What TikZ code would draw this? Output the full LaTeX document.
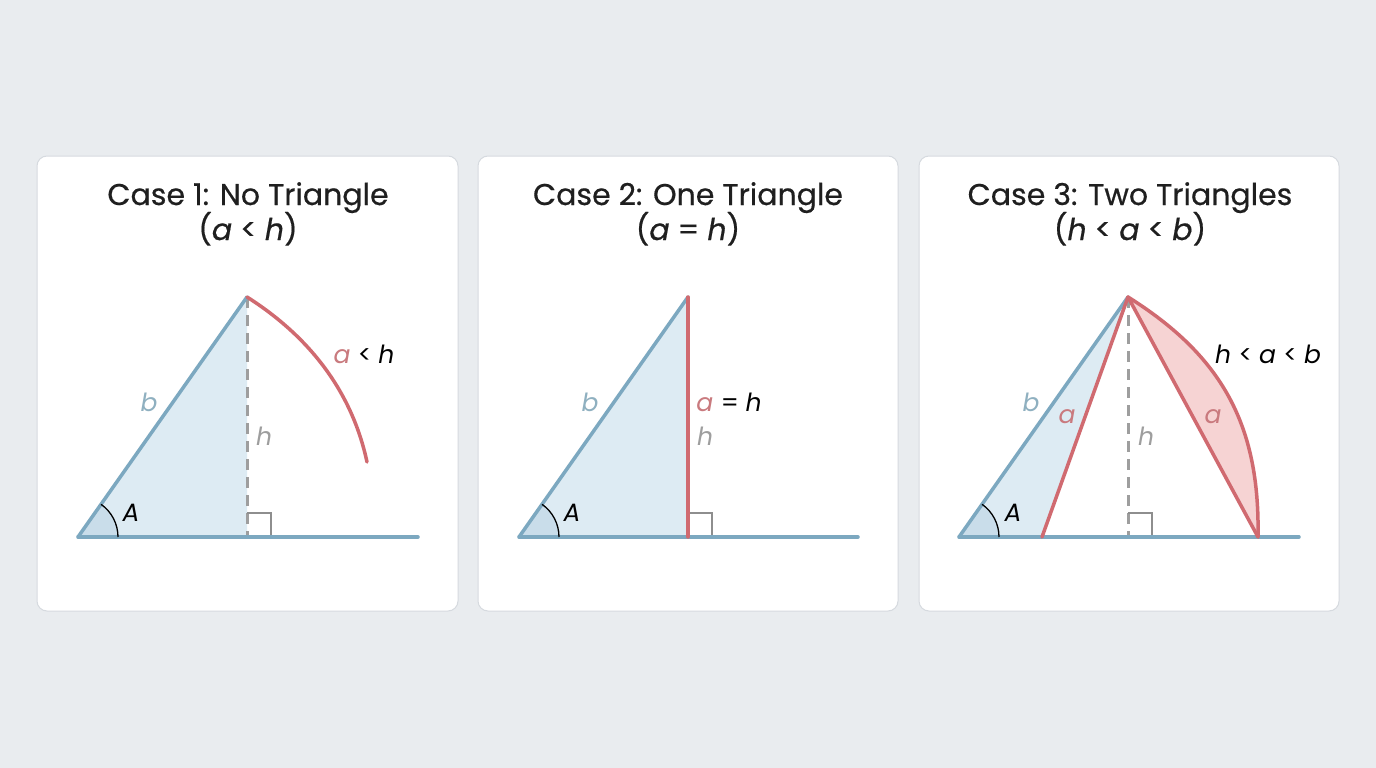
\documentclass[tikz,border=0pt]{standalone}
\usepackage{fontspec}
\setmainfont{Poppins}
\newfontfamily\titlefont{Poppins}[FakeBold=0.5]
\definecolor{bgc}{HTML}{E9ECEF}
\definecolor{cardborder}{HTML}{D6DADF}
\definecolor{bl}{HTML}{7CA8C0}
\definecolor{blfill}{HTML}{DDEBF3}
\definecolor{blsec}{HTML}{C9DDEA}
\definecolor{rd}{HTML}{D06A70}
\definecolor{rdfill}{HTML}{F6D3D3}
\definecolor{gr}{HTML}{9E9E9E}
\definecolor{blab}{HTML}{8FB0C0}
\definecolor{rlab}{HTML}{C97A7E}
\begin{document}
\begin{tikzpicture}[x=1pt,y=-1pt,
  card/.style={fill=white,draw=cardborder,line width=1pt,rounded corners=10pt},
  blueline/.style={draw=bl,line width=3.5pt,line cap=round},
  redline/.style={draw=rd,line width=3.5pt,line cap=round,line join=round},
  altline/.style={draw=gr,line width=3pt,dash pattern=on 11pt off 7pt},
  rtmark/.style={draw=gr!90!black,line width=1.5pt},
  anglearc/.style={draw=black,line width=1.3pt},
  title/.style={font=\titlefont\fontsize{30}{36}\selectfont,text=black!88,inner sep=0pt,anchor=base},
  lab/.style={font=\fontsize{25}{30}\selectfont\itshape,inner sep=0pt},
]
\fill[bgc] (0,0) rectangle (1376,768);
\useasboundingbox (0,0) rectangle (1376,768);

% ---------- cards ----------
\draw[card] (37,156) rectangle (458,611);
\draw[card] (478,156) rectangle (898,611);
\draw[card] (919,156) rectangle (1339,611);

% ---------- Case 1 ----------
\node[title] (t1) at (248,205) {Case 1: No Triangle};
\node[title] (c1) at (248,240) {(\textit{a} < \textit{h})};
\coordinate (A1) at (78,537);
\coordinate (T1) at (247,297);
\coordinate (F1) at (247,537);
\coordinate (E1) at (418,537);
\coordinate (R1) at (367,462);
\fill[blfill] (A1) -- (T1) -- (F1) -- cycle;
\fill[blsec] (A1) -- ++(40,0) arc[start angle=0,end angle=-54.8,radius=40] -- cycle;
\draw[altline] (T1) -- (F1);
\draw[rtmark] (247,513) -- (271,513) -- (271,537);
\draw[blueline] (A1) -- (E1);
\draw[blueline] (A1) -- (T1);
\draw[anglearc] (A1) ++(40,0) arc[start angle=0,end angle=-54.8,radius=40];
\draw[redline] (T1) .. controls (310,337) and (352,392) .. (R1);
\node[lab,text=blab] (b1) at (149,402) {b};
\node[lab,text=gr] (h1) at (264,436) {h};
\node[lab,text=black] (A1l) at (131,513) {A};
\node[lab] (ah1) at (364,354) {\textcolor{rlab}{a} \upshape<\ \itshape h};

% ---------- Case 2 ----------
\node[title] (t2) at (688,205) {Case 2: One Triangle};
\node[title] (c2) at (688,240) {(\textit{a} = \textit{h})};
\coordinate (A2) at (519,537);
\coordinate (T2) at (688,297);
\coordinate (F2) at (688,537);
\coordinate (E2) at (858,537);
\fill[blfill] (A2) -- (T2) -- (F2) -- cycle;
\fill[blsec] (A2) -- ++(40,0) arc[start angle=0,end angle=-54.8,radius=40] -- cycle;
\draw[rtmark] (688,513) -- (712,513) -- (712,537);
\draw[blueline] (A2) -- (E2);
\draw[blueline] (A2) -- (T2);
\draw[anglearc] (A2) ++(40,0) arc[start angle=0,end angle=-54.8,radius=40];
\draw[redline] (T2) -- (F2);
\node[lab,text=blab] (b2) at (590,402) {b};
\node[lab,text=gr] (h2) at (705,436) {h};
\node[lab,text=black] (A2l) at (572,513) {A};
\node[lab] (ah2) at (729,402) {\textcolor{rlab}{a} \upshape=\ \itshape h};

% ---------- Case 3 ----------
\node[title] (t3) at (1130,205) {Case 3: Two Triangles};
\node[title] (c3) at (1130,240) {(\textit{h} < \textit{a} < \textit{b})};
\coordinate (A3) at (959,537);
\coordinate (T3) at (1128,297);
\coordinate (F3) at (1128,537);
\coordinate (E3) at (1299,537);
\coordinate (P3) at (1042,537);
\coordinate (Q3) at (1258,537);
\fill[blfill] (A3) -- (T3) -- (P3) -- cycle;
\fill[blsec] (A3) -- ++(40,0) arc[start angle=0,end angle=-54.8,radius=40] -- cycle;
\fill[rdfill] (T3) .. controls (1222,356) and (1260,425) .. (Q3) -- cycle;
\draw[altline] (T3) -- (F3);
\draw[rtmark] (1128,513) -- (1152,513) -- (1152,537);
\draw[blueline] (A3) -- (E3);
\draw[blueline] (A3) -- (T3);
\draw[anglearc] (A3) ++(40,0) arc[start angle=0,end angle=-54.8,radius=40];
\draw[redline] (T3) -- (P3);
\draw[redline] (T3) -- (Q3);
\draw[redline] (T3) .. controls (1222,356) and (1260,425) .. (Q3);
\node[lab,text=blab] (b3) at (1031,402) {b};
\node[lab,text=rlab] (a3l) at (1067,417) {a};
\node[lab,text=gr] (h3) at (1146,436) {h};
\node[lab,text=rlab] (a3r) at (1213,417) {a};
\node[lab,text=black] (A3l) at (1013,513) {A};
\node[lab] (hab3) at (1268,354) {h \upshape<\ \itshape a \upshape<\ \itshape b};
\end{tikzpicture}
\end{document}
